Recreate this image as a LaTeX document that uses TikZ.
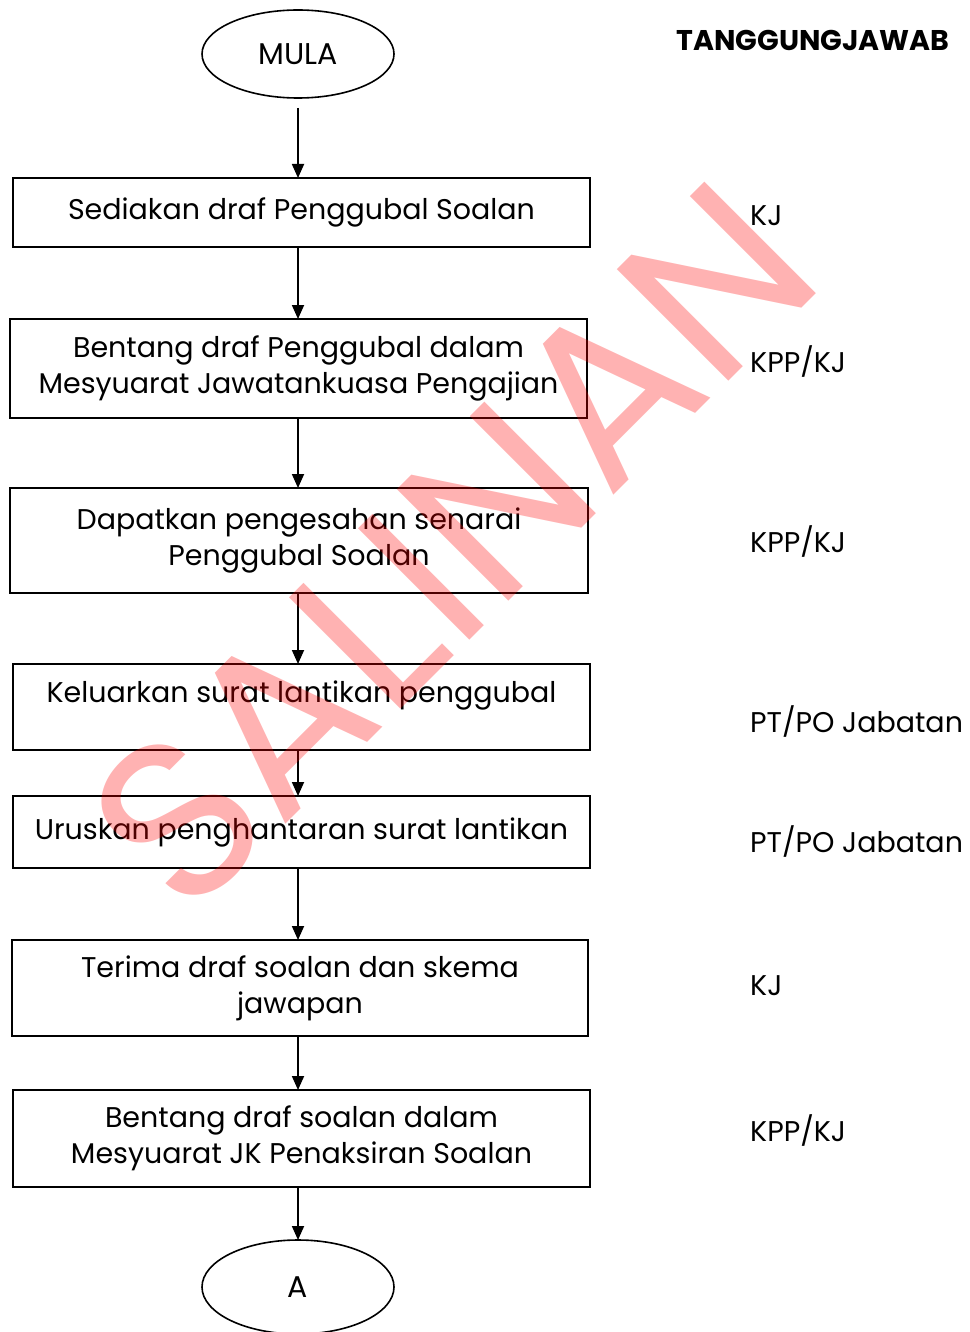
\documentclass[tikz,border=0pt]{standalone}
\usepackage{fontspec}
\setmainfont{Poppins}
\usetikzlibrary{arrows.meta,shapes.geometric}
\tikzset{
  stepbox/.style={draw=black,line width=1.8pt,rectangle,inner sep=0pt,align=center,font=\fontsize{28.5}{36}\selectfont},
  term/.style={draw=black,line width=1.6pt,ellipse,inner sep=0pt,minimum width=192pt,minimum height=88pt,font=\fontsize{30}{36}\selectfont},
  flow/.style={line width=1.8pt,-{Triangle[length=14pt,width=12pt]}},
  resp/.style={anchor=west,inner sep=0pt,font=\fontsize{28.5}{36}\selectfont},
}
\begin{document}
\begin{tikzpicture}[x=1pt,y=-1pt]
\useasboundingbox (0,0) rectangle (969,1332);
% terminals and steps
\node[term] (start) at (298,54) {MULA};
\node[stepbox,minimum width=577pt,minimum height=69pt] (b1) at (301.5,212.5) {Sediakan draf Penggubal Soalan};
\node[stepbox,minimum width=577pt,minimum height=99pt] (b2) at (298.5,368.5) {Bentang draf Penggubal dalam\\Mesyuarat Jawatankuasa Pengajian};
\node[stepbox,minimum width=578pt,minimum height=105pt] (b3) at (299,540.5) {Dapatkan pengesahan senarai\\Penggubal Soalan};
\node[stepbox,minimum width=577pt,minimum height=86pt,text depth=31pt] (b4) at (301.5,707) {Keluarkan surat lantikan penggubal};
\node[stepbox,minimum width=577pt,minimum height=72pt] (b5) at (301.5,832) {Uruskan penghantaran surat lantikan};
\node[stepbox,minimum width=576pt,minimum height=96pt] (b6) at (300,988) {Terima draf soalan dan skema\\jawapan};
\node[stepbox,minimum width=577pt,minimum height=97pt] (b7) at (301.5,1138.5) {Bentang draf soalan dalam\\Mesyuarat JK Penaksiran Soalan};
\node[term,minimum height=94pt] (end) at (298,1287) {A};
% connectors
\coordinate (c0) at (298,108);
\coordinate (t1) at (298,178);
\coordinate (f1) at (298,247);
\coordinate (t2) at (298,319);
\coordinate (f2) at (298,418);
\coordinate (t3) at (298,488);
\coordinate (f3) at (298,593);
\coordinate (t4) at (298,664);
\coordinate (f4) at (298,750);
\coordinate (t5) at (298,796);
\coordinate (f5) at (298,868);
\coordinate (t6) at (298,940);
\coordinate (f6) at (298,1036);
\coordinate (t7) at (298,1090);
\coordinate (f7) at (298,1187);
\coordinate (t8) at (298,1240);
\draw[flow] (c0) -- (t1);
\draw[flow] (f1) -- (t2);
\draw[flow] (f2) -- (t3);
\draw[flow] (f3) -- (t4);
\draw[flow] (f4) -- (t5);
\draw[flow] (f5) -- (t6);
\draw[flow] (f6) -- (t7);
\draw[flow] (f7) -- (t8);
% responsibility column
\node[anchor=center,font=\fontsize{28.5}{36}\selectfont\bfseries] (hdr) at (813,40) {TANGGUNGJAWAB};
\node[resp] (r1) at (750,216) {KJ};
\node[resp] (r2) at (750,361) {KPP/KJ};
\node[resp] (r3) at (750,541) {KPP/KJ};
\node[resp] (r4) at (750,721) {PT/PO Jabatan};
\node[resp] (r5) at (750,841) {PT/PO Jabatan};
\node[resp] (r6) at (750,986) {KJ};
\node[resp] (r7) at (750,1130) {KPP/KJ};
% watermark
\node[text=red,text opacity=0.3,rotate=45,font=\fontsize{226}{226}\selectfont,inner sep=0pt] (wmk) at (452,546) {SALINAN};
\end{tikzpicture}
\end{document}
